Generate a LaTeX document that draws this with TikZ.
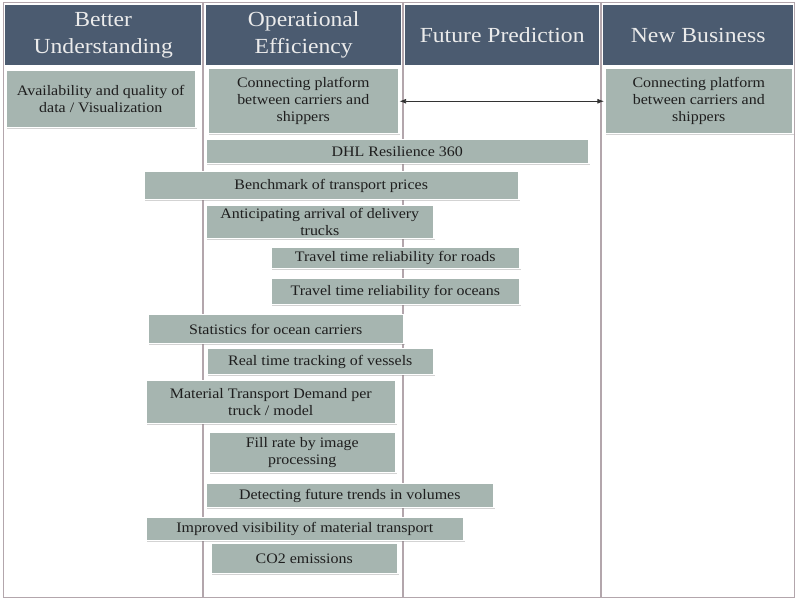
\documentclass[tikz,border=0pt]{standalone}
\usepackage{fontspec}
\setmainfont{Liberation Serif}[FakeStretch=1.1]
\usetikzlibrary{arrows.meta,positioning,shadows}
\definecolor{head}{HTML}{4B5B70}
\definecolor{cell}{HTML}{A6B5B0}
\definecolor{rule}{HTML}{B3A6AC}
\definecolor{ink}{HTML}{1E1E1E}

\begin{document}
\begin{tikzpicture}[x=1pt,y=-1pt,>=Latex,
  hcell/.style={fill=head,text=white!92!black,anchor=north west,align=center,
    inner sep=0pt,font=\fontsize{21.5}{27}\selectfont},
  item/.style={fill=cell,draw=white,line width=1.5pt,anchor=north west,align=center,
    inner sep=1pt,text=ink,font=\fontsize{14.5}{17}\selectfont,
    drop shadow={shadow xshift=1pt,shadow yshift=-1.5pt,opacity=.35}}]
  \useasboundingbox (0,0) rectangle (796,601);
  % frame and columns
  \draw[rule,line width=1pt] (3,3) rectangle (794,598);
  \foreach \cx in {203,403,601}
    \draw[rule,line width=1.2pt] (\cx,3) -- (\cx,598);
  % headers
  \node[hcell,minimum width=196pt,minimum height=60pt] (hbetter) at (5,5) {Better\\Understanding};
  \node[hcell,minimum width=195pt,minimum height=60pt] (hops) at (206,5) {Operational\\Efficiency};
  \node[hcell,minimum width=194pt,minimum height=60pt] (hfut) at (405,5) {Future Prediction};
  \node[hcell,minimum width=190pt,minimum height=60pt] (hnew) at (603,5) {New Business};
  % items
  \node[item,minimum width=190pt,minimum height=57pt] (avail) at (5,70) {Availability and quality of\\data / Visualization};
  \node[item,minimum width=191pt,minimum height=65pt] (connops) at (207,68) {Connecting platform\\between carriers and\\shippers};
  \node[item,minimum width=188pt,minimum height=65pt] (connnew) at (604,68) {Connecting platform\\between carriers and\\shippers};
  \node[item,minimum width=383pt,minimum height=24pt] (dhl) at (205,139) {DHL Resilience 360};
  \node[item,minimum width=375pt,minimum height=28pt] (bench) at (143,171) {Benchmark of transport prices};
  \node[item,minimum width=228pt,minimum height=33pt] (antic) at (205,205) {Anticipating arrival of delivery\\trucks};
  \node[item,minimum width=249pt,minimum height=21pt] (roads) at (270,247) {Travel time reliability for roads};
  \node[item,minimum width=249pt,minimum height=26pt] (oceans) at (270,278) {Travel time reliability for oceans};
  \node[item,minimum width=256pt,minimum height=29pt] (stats) at (147,314) {Statistics for ocean carriers};
  \node[item,minimum width=227pt,minimum height=26pt] (vessels) at (206,348) {Real time tracking of vessels};
  \node[item,minimum width=250pt,minimum height=43pt] (demand) at (145,380) {Material Transport Demand per\\truck / model};
  \node[item,minimum width=187pt,minimum height=40pt] (fill) at (208,432) {Fill rate by image\\processing};
  \node[item,minimum width=288pt,minimum height=24pt] (trends) at (205,483) {Detecting future trends in volumes};
  \node[item,minimum width=318pt,minimum height=23pt] (visib) at (145,517) {Improved visibility of material transport};
  \node[item,minimum width=187pt,minimum height=30pt] (co2) at (210,543) {CO2 emissions};
  % link between the two platforms
  \draw[<->,line width=0.8pt,black!80] (connops.east) -- (connnew.west);
\end{tikzpicture}
\end{document}
